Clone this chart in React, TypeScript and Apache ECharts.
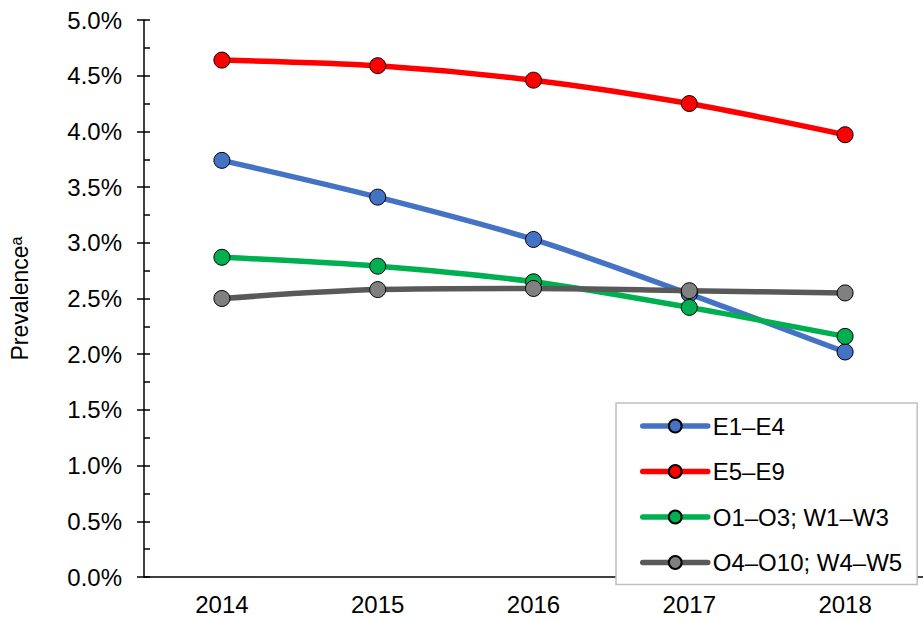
import React, { useEffect, useRef } from "react";
import * as echarts from "echarts";

const years = ["2014", "2015", "2016", "2017", "2018"];
const e1e4 = [3.74, 3.41, 3.03, 2.54, 2.02];
const e5e9 = [4.64, 4.59, 4.46, 4.25, 3.97];
const o1o3 = [2.87, 2.79, 2.65, 2.42, 2.16];
const o4o10 = [2.5, 2.58, 2.59, 2.57, 2.55];
const seriesNames = ["E1–E4", "E5–E9", "O1–O3; W1–W3", "O4–O10; W4–W5"];
const lineColors = ["#4472C4", "#FF0000", "#00B050", "#595959"];
const markerColors = ["#4472C4", "#FF0000", "#00B050", "#808080"];

const FONT = "Liberation Sans, Arial, sans-serif";

export default function App() {
  const ref = useRef<HTMLDivElement>(null);
  useEffect(() => {
    document.body.style.margin = "0";
    if (!ref.current) return;
    const chart = echarts.init(ref.current, undefined, { renderer: "svg" });
    const allData = [e1e4, e5e9, o1o3, o4o10];
    chart.setOption({
      animation: false,
      textStyle: { fontFamily: FONT },
      grid: { left: 138, top: 20, width: 794, bottom: 43 },
      legend: {
        orient: "vertical",
        left: 616,
        top: 403,
        padding: [11, 15, 10, 24],
        itemWidth: 65,
        itemHeight: 16,
        itemGap: 21.5,
        borderColor: "#BFBFBF",
        borderWidth: 1.5,
        backgroundColor: "#fff",
        lineStyle: { width: 5.5, cap: "round" },
        textStyle: { fontSize: 24, color: "#000", fontFamily: FONT },
        data: seriesNames,
      },
      xAxis: {
        type: "category",
        data: years,
        boundaryGap: true,
        axisLine: { lineStyle: { color: "#000", width: 1.5 } },
        axisTick: { alignWithLabel: true, length: 5, lineStyle: { color: "#000", width: 1.5 } },
        axisLabel: { fontSize: 24, color: "#000", margin: 15, fontFamily: FONT },
        splitLine: { show: false },
      },
      yAxis: [
        {
          type: "value",
          min: 0,
          max: 5,
          interval: 0.5,
          name: "Prevalence{sup|a}",
          nameLocation: "middle",
          nameRotate: 90,
          nameGap: 113,
          nameTextStyle: {
            fontSize: 23,
            color: "#000",
            fontFamily: FONT,
            rich: {
              sup: { fontSize: 16, verticalAlign: "top", color: "#000", fontFamily: FONT },
            },
          },
          axisLine: { show: true, lineStyle: { color: "#000", width: 1.5 } },
          axisTick: { show: true, length: 7, lineStyle: { color: "#000", width: 1.5 } },
          axisLabel: {
            fontSize: 24,
            color: "#000",
            margin: 22,
            fontFamily: FONT,
            formatter: (v: number) => v.toFixed(1) + "%",
          },
          splitLine: { show: false },
        },
        {
          type: "value",
          min: 0,
          max: 5,
          interval: 0.25,
          position: "left",
          axisLine: { show: false },
          axisTick: { show: true, inside: true, length: 6, lineStyle: { color: "#000", width: 1.5 } },
          axisLabel: { show: false },
          splitLine: { show: false },
        },
      ],
      series: seriesNames.map((name, i) => ({
        name,
        type: "line",
        yAxisIndex: 0,
        data: allData[i],
        smooth: 0.3,
        symbol: "circle",
        symbolSize: 16,
        lineStyle: { color: lineColors[i], width: 5.5 },
        itemStyle: { color: markerColors[i], borderColor: "#000", borderWidth: 1 },
        emphasis: { disabled: true },
      })),
    });
    return () => chart.dispose();
  }, []);
  return <div ref={ref} style={{ width: 923, height: 620 }} />;
}
